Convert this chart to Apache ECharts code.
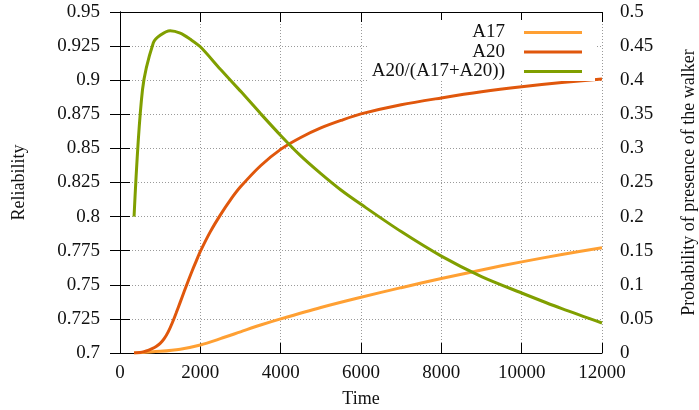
<!DOCTYPE html>
<html><head><meta charset="utf-8">
<script src="https://cdn.jsdelivr.net/npm/echarts@6/dist/echarts.min.js"></script>
<style>html,body{margin:0;padding:0;background:#fff;overflow:hidden}#c{width:699px;height:410px}</style>
</head><body><div id="c"></div>
<script>
const xTicks = [0, 2000, 4000, 6000, 8000, 10000, 12000];
const leftTicks = [0.7, 0.725, 0.75, 0.775, 0.8, 0.825, 0.85, 0.875, 0.9, 0.925, 0.95];
const rightTicks = [0, 0.05, 0.1, 0.15, 0.2, 0.25, 0.3, 0.35, 0.4, 0.45, 0.5];

const a17Time = [350, 1000, 1500, 2000, 2500, 3000, 3500, 4000, 5000, 6000, 7000, 8000, 9000, 10000, 11000, 12000];
const a17Vals = [0.7, 0.7012, 0.7028, 0.7059, 0.7105, 0.7155, 0.7205, 0.725, 0.7334, 0.7409, 0.7479, 0.7546, 0.7609, 0.7668, 0.7722, 0.7772];

const a20Time = [350, 500, 600, 700, 800, 900, 1000, 1100, 1200, 1300, 1400, 1500, 1600, 1700, 1800, 1900, 2000, 2250, 2500, 2750, 3000, 3500, 4000, 4500, 5000, 5500, 6000, 7000, 8000, 9000, 10000, 11000, 12000];
const a20Vals = [0.7, 0.7004, 0.7010, 0.7019, 0.7032, 0.7048, 0.707, 0.7105, 0.7155, 0.722, 0.7295, 0.7373, 0.7452, 0.753, 0.7605, 0.7675, 0.7745, 0.789, 0.8013, 0.8123, 0.8218, 0.8373, 0.8493, 0.858, 0.865, 0.8705, 0.8753, 0.882, 0.887, 0.8915, 0.8952, 0.8983, 0.9009];

const ratioTime = [350, 560, 830, 1000, 1250, 1500, 1750, 2000, 2500, 3000, 3500, 4000, 4500, 5000, 5500, 6000, 7000, 8000, 9000, 10000, 11000, 12000];
const ratioVals = [0.2, 0.386, 0.455, 0.466, 0.4726, 0.469, 0.46, 0.449, 0.416, 0.384, 0.351, 0.319, 0.289, 0.263, 0.239, 0.218, 0.178, 0.142, 0.112, 0.088, 0.065, 0.044];

const serif = '"Liberation Serif", "DejaVu Serif", serif';
const pair = (t, v) => t.map((x, i) => [x, v[i]]);
const grid = {type: [1, 2], color: '#9a9a9a', width: 1};
const pick = (list) => (v) => { const m = list.find(t => Math.abs(t - v) < 1e-6); return m === undefined ? '' : String(m); };

const chart = echarts.init(document.getElementById('c'));
chart.setOption({
  animation: false,
  backgroundColor: '#fff',
  grid: {left: 120, right: 97, top: 12, bottom: 57, containLabel: false, outerBoundsMode: 'none'},
  legend: {
    orient: 'vertical', align: 'right', right: 104, top: 20,
    padding: [3, 13, 0, 3], itemGap: 0.5,
    backgroundColor: '#fff',
    icon: 'rect', itemWidth: 58, itemHeight: 3,
    textStyle: {fontFamily: serif, fontSize: 19, color: '#111', lineHeight: 18, padding: [0, 14, 0, 0]},
    z: 5
  },
  xAxis: [{
    type: 'value', min: 0, max: 12000, interval: 2000,
    name: 'Time', nameLocation: 'middle', nameGap: 37,
    nameTextStyle: {fontFamily: serif, fontSize: 18, color: '#111'},
    axisLine: {show: true, lineStyle: {color: '#000', width: 1}},
    axisTick: {show: true, inside: true, length: 10, lineStyle: {color: '#000'}},
    axisLabel: {fontFamily: serif, fontSize: 19, color: '#111', margin: 11, formatter: pick(xTicks)},
    splitLine: {show: true, lineStyle: grid}
  }, {
    type: 'value', min: 0, max: 12000, interval: 2000, position: 'top',
    axisLine: {show: true, lineStyle: {color: '#000', width: 1}},
    axisTick: {show: true, inside: true, length: 10, lineStyle: {color: '#000'}},
    axisLabel: {show: false}, splitLine: {show: false}
  }],
  yAxis: [{
    type: 'value', min: 0.7, max: 0.95, interval: 0.025, position: 'left',
    name: 'Reliability', nameLocation: 'middle', nameGap: 92,
    nameTextStyle: {fontFamily: serif, fontSize: 18, color: '#111'},
    axisLine: {show: true, lineStyle: {color: '#000', width: 1}},
    axisTick: {show: true, inside: true, length: 10, lineStyle: {color: '#000'}},
    axisLabel: {fontFamily: serif, fontSize: 19, color: '#111', margin: 20, formatter: pick(leftTicks)},
    splitLine: {show: true, lineStyle: grid}
  }, {
    type: 'value', min: 0, max: 0.5, interval: 0.05, position: 'right',
    name: 'Probability of presence of the walker', nameLocation: 'middle', nameGap: 78, nameRotate: 90,
    nameTextStyle: {fontFamily: serif, fontSize: 18, color: '#111'},
    axisLine: {show: true, lineStyle: {color: '#000', width: 1}},
    axisTick: {show: true, inside: true, length: 10, lineStyle: {color: '#000'}},
    axisLabel: {fontFamily: serif, fontSize: 19, color: '#111', margin: 18, formatter: pick(rightTicks)},
    splitLine: {show: false}
  }],
  series: [{
    name: 'A17', type: 'line', xAxisIndex: 0, yAxisIndex: 0, data: pair(a17Time, a17Vals),
    symbol: 'none', smooth: 0.3, color: '#ffa033', lineStyle: {width: 3, color: '#ffa033'}, z: 3
  }, {
    name: 'A20', type: 'line', xAxisIndex: 0, yAxisIndex: 0, data: pair(a20Time, a20Vals),
    symbol: 'none', smooth: 0.3, color: '#e0570c', lineStyle: {width: 3, color: '#e0570c'}, z: 3
  }, {
    name: 'A20/(A17+A20))', type: 'line', xAxisIndex: 0, yAxisIndex: 1, data: pair(ratioTime, ratioVals),
    symbol: 'none', smooth: 0.3, color: '#809f00', lineStyle: {width: 3, color: '#809f00'}, z: 3
  }]
});
</script></body></html>
